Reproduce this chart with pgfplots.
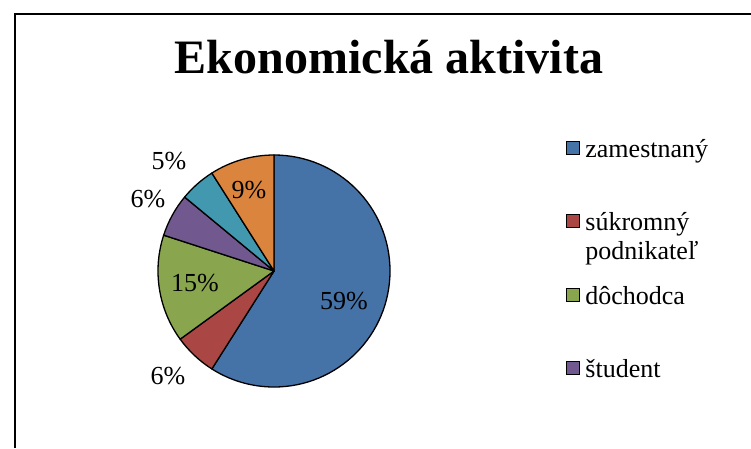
\documentclass[border=0pt]{standalone}
\usepackage{pgfplots}
\pgfplotsset{compat=1.18}
\usepackage{pgfplotstable}
\usepackage{fontspec}
\setmainfont{Liberation Serif}

\definecolor{cA}{RGB}{69,114,167}
\definecolor{cB}{RGB}{170,70,67}
\definecolor{cC}{RGB}{137,165,78}
\definecolor{cD}{RGB}{113,88,143}
\definecolor{cE}{RGB}{65,152,175}
\definecolor{cF}{RGB}{219,132,61}

% share of each group, clockwise from 12 o'clock
\pgfplotstableread{
value col
59 cA
6  cB
15 cC
6  cD
5  cE
9  cF
}\piedata

% label positions (px from top-left)
\pgfplotstableread{
x   y   value
344 301 59
168 376 6
195 283 15
148 199 6
169 161 5
249 190 9
}\labeldata

\newcommand{\lfont}{\fontsize{26}{29}\selectfont}

\begin{document}
\begin{tikzpicture}
\begin{axis}[
    width=751pt, height=448pt, scale only axis,
    xmin=0, xmax=751, ymin=0, ymax=448,
    y dir=reverse,
    hide axis, clip=false,
    /pgf/number format/assume math mode=true,
    legend style={
        at={(axis cs:563,137)}, anchor=north west,
        draw=none, fill=none, font=\lfont,
        row sep=0pt, column sep=0pt,
        cells={anchor=base west},
        nodes={inner sep=0pt, text height=18pt, text depth=55.5pt},
    },
    legend image code/.code={
        \draw[#1] (0pt,3pt) rectangle (13pt,16pt);
        \path (18pt,0pt);
    },
]
% frame
\draw[line width=1.5pt] (axis cs:15,448) -- (axis cs:15,14) -- (axis cs:751,14);

% slices
\pgfmathsetmacro{\angstart}{90}
\pgfplotsforeachungrouped \i in {0,...,5}{
    \pgfplotstablegetelem{\i}{value}\of\piedata
    \let\v=\pgfplotsretval
    \pgfplotstablegetelem{\i}{col}\of\piedata
    \let\c=\pgfplotsretval
    \pgfmathsetmacro{\angend}{\angstart-3.6*\v}
    \edef\temp{\noexpand\filldraw[fill=\c, draw=black, line width=1.3pt, line join=round]
        (axis cs:274,271) -- ++(\angstart:116pt)
        arc[start angle=\angstart, end angle=\angend, radius=116pt] -- cycle;}
    \temp
    \global\let\angstart=\angend
}

% percentage labels
\addplot[only marks, mark=none, forget plot,
    nodes near coords={\pgfmathprintnumber{\pgfplotspointmeta}\%},
    point meta=explicit,
    nodes near coords style={anchor=center, font=\lfont, inner sep=0pt, text=black}]
    table[x=x, y=y, meta=value] {\labeldata};

% title
\node[font=\fontsize{48}{56}\selectfont\bfseries, anchor=base] at (axis cs:389,73) {Ekonomická aktivita};

% legend (only the first four entries fit, as in the original)
\addlegendimage{fill=cA, draw=black, line width=1.2pt}
\addlegendentry{zamestnaný}
\addlegendimage{fill=cB, draw=black, line width=1.2pt}
\addlegendentry{\parbox[t]{150pt}{súkromný\\podnikateľ}}
\addlegendimage{fill=cC, draw=black, line width=1.2pt}
\addlegendentry{dôchodca}
\addlegendimage{fill=cD, draw=black, line width=1.2pt}
\addlegendentry{študent}
\end{axis}
\pgfresetboundingbox
\path (current axis.south west) rectangle (current axis.north east);
\end{tikzpicture}
\end{document}
